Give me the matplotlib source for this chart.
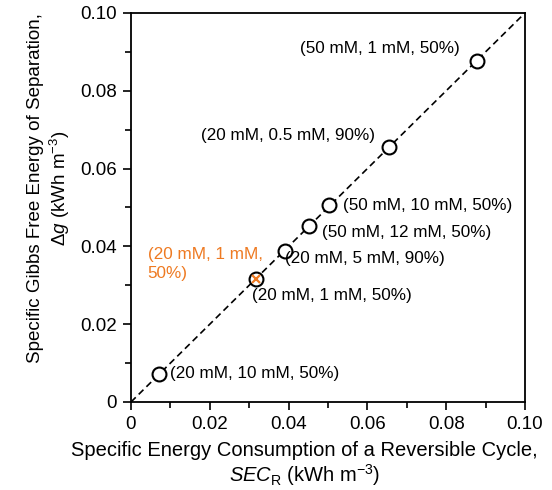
import numpy as np
import matplotlib.pyplot as plt

plt.rcParams['font.family'] = ['Liberation Sans', 'DejaVu Sans']
plt.rcParams['mathtext.fontset'] = 'custom'
plt.rcParams['mathtext.rm'] = 'Liberation Sans'
plt.rcParams['mathtext.it'] = 'Liberation Sans:italic'
plt.rcParams['mathtext.bf'] = 'Liberation Sans:bold'

# reversible-cycle energy vs Gibbs free energy of separation (kWh m^-3)
sec_r = [0.0071, 0.0317, 0.0390, 0.0452, 0.0503, 0.0655, 0.0878]
delta_g = [0.0072, 0.0316, 0.0388, 0.0452, 0.0506, 0.0656, 0.0877]
labels = ['(20 mM, 10 mM, 50%)', '(20 mM, 1 mM, 50%)', '(20 mM, 5 mM, 90%)',
          '(50 mM, 12 mM, 50%)', '(50 mM, 10 mM, 50%)', '(20 mM, 0.5 mM, 90%)',
          '(50 mM, 1 mM, 50%)']
# label offsets in points (dx, dy), ha
label_pos = [(8, 0, 'left'), (-3, -12, 'left'), (0, -5, 'left'),
             (9, -4.5, 'left'), (10, 0, 'left'), (-10, 8, 'right'),
             (-12, 9, 'right')]
highlight = 1
orange = '#EE7A22'

fig = plt.figure(figsize=(5.52, 4.9), dpi=100)
ax = fig.add_axes([0.2373, 0.1796, 0.7137, 0.7939])

ax.plot([0, 0.1], [0, 0.1], ls=(0, (4, 2.5)), color='black', lw=1.2, zorder=1)
ax.plot(sec_r, delta_g, 'o', ms=10, mfc='white', mec='black', mew=1.5, zorder=2)
ax.plot(sec_r[highlight], delta_g[highlight], 'x', ms=6, mew=1.6, color=orange, zorder=3)

for x, y, t, (dx, dy, ha) in zip(sec_r, delta_g, labels, label_pos):
    ax.annotate(t, (x, y), xytext=(dx, dy), textcoords='offset points',
                ha=ha, va='center', fontsize=12.3)

ax.annotate('(20 mM, 1 mM,\n50%)', (sec_r[highlight], delta_g[highlight]),
            xytext=(-78, 11), textcoords='offset points', ha='left', va='center',
            fontsize=12.3, color=orange, linespacing=1.3)

ax.set_xlim(0, 0.1)
ax.set_ylim(0, 0.1)
ticks = [0, 0.02, 0.04, 0.06, 0.08, 0.10]
tick_labels = ['0', '0.02', '0.04', '0.06', '0.08', '0.10']
ax.set_xticks(ticks)
ax.set_xticklabels(tick_labels)
ax.set_yticks(ticks)
ax.set_yticklabels(tick_labels)
ax.set_xticks(np.arange(0.01, 0.1, 0.02), minor=True)
ax.set_yticks(np.arange(0.01, 0.1, 0.02), minor=True)
ax.tick_params(which='both', direction='out', labelsize=13.5, width=1.2)
ax.tick_params(which='major', length=6, pad=4)
ax.tick_params(which='minor', length=4)
for s in ax.spines.values():
    s.set_linewidth(1.3)

ax.set_xlabel('Specific Energy Consumption of a Reversible Cycle,\n'
              r'$SEC_\mathrm{R}$ (kWh m$^{-3}$)', fontsize=14.5, labelpad=6,
              linespacing=1.1)
ax.set_ylabel('Specific Gibbs Free Energy of Separation,\n'
              r'Δ$g$ (kWh m$^{-3}$)', fontsize=13.5, labelpad=6)
# titles sit a little off the axes centre
ax.xaxis.label.set_x(0.44)
ax.yaxis.label.set_y(0.55)

fig.savefig('out.png', dpi=100)
